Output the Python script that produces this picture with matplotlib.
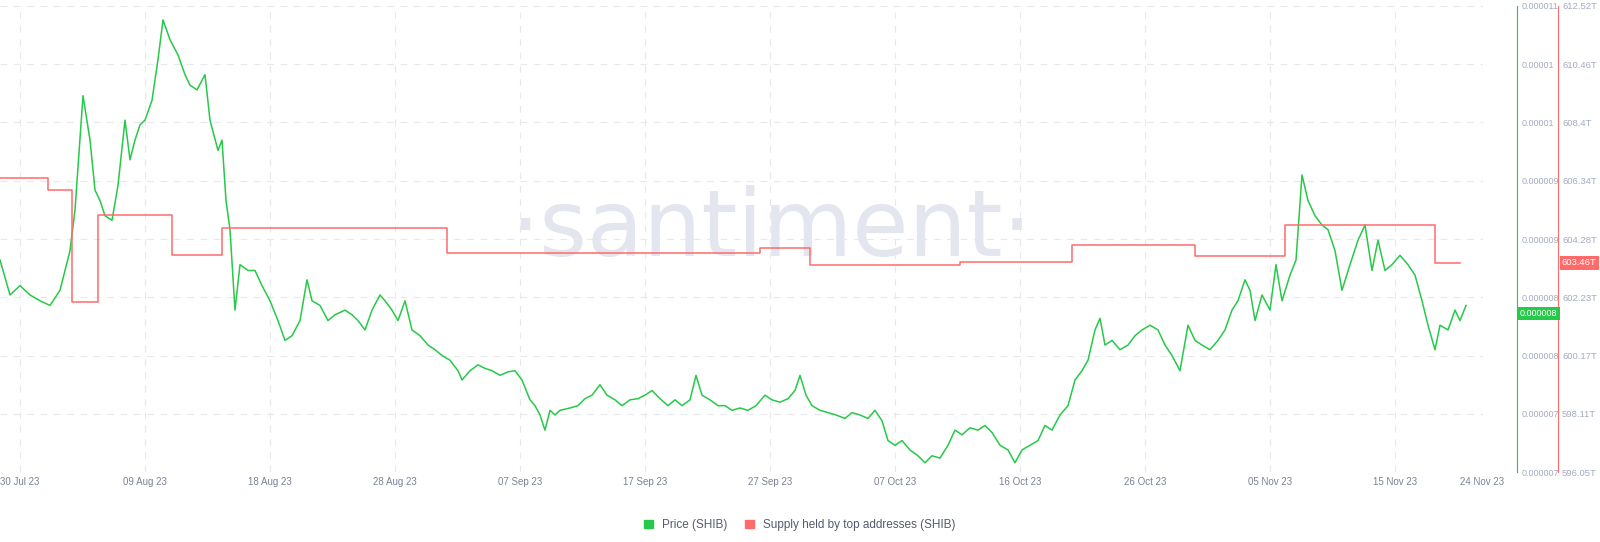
import numpy as np
import matplotlib.pyplot as plt
from matplotlib.patches import Rectangle

plt.rcParams['font.family'] = ['Liberation Sans', 'DejaVu Sans']

# days since chart start (~28 Jul 23 10:00), price in millionths of USD
price_day = [0,0.8,1.6,2.4,3.2,4.0,4.8,5.6,6.0,6.64,7.2,7.6,8.0,8.4,8.96,9.44,10.0,10.4,10.8,11.2,11.6,12.16,12.64,13.04,13.6,14.24,14.8,15.2,15.76,16.4,16.8,17.44,17.76,18.08,18.4,18.8,19.2,19.84,20.4,20.96,21.6,22.24,22.8,23.36,24.0,24.56,24.96,25.6,26.24,26.8,27.6,28.16,28.64,29.2,29.76,30.4,30.8,31.36,31.84,32.4,32.96,33.6,34.24,34.8,35.36,36.0,36.64,36.96,37.6,38.24,38.8,39.36,40.0,40.64,41.2,41.76,42.4,42.8,43.2,43.6,44.0,44.4,44.8,45.6,46.24,46.8,47.36,48.0,48.56,49.2,49.76,50.4,51.04,51.6,52.16,52.8,53.44,54.0,54.56,55.2,55.68,56.16,56.8,57.44,58.0,58.56,59.2,59.84,60.48,61.2,61.76,62.4,63.04,63.6,64.0,64.48,64.96,65.6,66.24,66.88,67.6,68.16,68.8,69.44,70.0,70.56,71.04,71.6,72.16,72.8,73.44,74.0,74.56,75.2,75.84,76.4,76.96,77.6,78.24,78.8,79.36,80.0,80.64,81.2,81.76,82.4,83.04,83.6,84.16,84.8,85.44,86.0,86.56,87.04,87.6,88.0,88.4,88.96,89.6,90.24,90.8,91.36,92.0,92.64,93.2,93.76,94.4,95.04,95.6,96.16,96.8,97.44,98.0,98.56,99.04,99.6,100.0,100.4,100.96,101.6,102.08,102.56,103.2,103.68,104.16,104.64,105.2,105.76,106.24,106.8,107.36,108.0,108.64,109.2,109.76,110.24,110.8,111.36,112.0,112.64,113.2,113.76,114.24,114.8,115.2,115.84,116.4,116.8,117.28]
price_val = [8.82,8.52,8.60,8.52,8.47,8.43,8.56,8.90,9.25,10.23,9.85,9.42,9.33,9.20,9.16,9.46,10.02,9.68,9.85,9.98,10.02,10.19,10.54,10.88,10.71,10.58,10.41,10.32,10.28,10.41,10.02,9.76,9.85,9.33,9.08,8.39,8.78,8.73,8.73,8.60,8.47,8.30,8.13,8.17,8.30,8.65,8.47,8.43,8.30,8.35,8.39,8.35,8.30,8.22,8.39,8.52,8.47,8.39,8.30,8.47,8.22,8.17,8.09,8.05,8.00,7.96,7.87,7.79,7.87,7.92,7.89,7.87,7.83,7.86,7.87,7.79,7.62,7.57,7.49,7.36,7.53,7.49,7.53,7.55,7.57,7.63,7.66,7.75,7.66,7.62,7.57,7.62,7.63,7.66,7.70,7.63,7.57,7.62,7.57,7.62,7.83,7.66,7.62,7.57,7.57,7.53,7.55,7.53,7.57,7.66,7.62,7.60,7.63,7.70,7.83,7.66,7.57,7.53,7.51,7.49,7.46,7.51,7.49,7.46,7.53,7.44,7.27,7.23,7.27,7.19,7.14,7.08,7.14,7.12,7.23,7.36,7.32,7.38,7.36,7.40,7.34,7.23,7.19,7.08,7.19,7.23,7.27,7.40,7.36,7.49,7.57,7.79,7.87,7.96,8.22,8.32,8.09,8.13,8.05,8.09,8.17,8.22,8.26,8.22,8.09,8.00,7.87,8.26,8.13,8.09,8.05,8.13,8.22,8.39,8.47,8.65,8.56,8.30,8.52,8.39,8.78,8.47,8.69,8.82,9.55,9.33,9.20,9.12,9.08,8.90,8.56,8.78,8.99,9.12,8.73,8.99,8.73,8.78,8.86,8.78,8.69,8.47,8.26,8.05,8.26,8.22,8.39,8.30,8.43]

# supply held by top addresses, trillions (step changes)
supply_day = [0,3.84,5.76,7.84,13.76,17.76,35.76,36.8,60.8,64.8,76.8,85.76,95.6,102.8,114.8,116.8]
supply_val = [606.44,606.02,602.06,605.13,603.72,604.67,603.79,603.79,603.97,603.37,603.47,604.07,603.69,604.78,603.44,603.44]

tick_days = [1.6 + 10 * i for i in range(12)] + [118.6]
tick_labels = ['30 Jul 23','09 Aug 23','18 Aug 23','28 Aug 23','07 Sep 23','17 Sep 23','27 Sep 23',
               '07 Oct 23','16 Oct 23','26 Oct 23','05 Nov 23','15 Nov 23','24 Nov 23']
price_ticks = [7.0 + 0.5 * i for i in range(9)]
price_tick_labels = ['0.000007','0.000007','0.000008','0.000008','0.000009','0.000009','0.00001','0.00001','0.000011']
supply_ticks = [596.05,598.11,600.17,602.23,604.28,606.34,608.4,610.46,612.52]

green = '#26c948'
red = '#ff6b6b'
txt = '#a4abc2'

fig = plt.figure(figsize=(16, 5.42), dpi=100)
W = 1483
ax = fig.add_axes([0, 0.129, W / 1600, 0.86])
ax.set_xlim(0, 118.64)
ax.set_ylim(7.0, 11.0)
ax.set_yticks(price_ticks)
ax.set_yticklabels([])
ax.tick_params(left=False, length=0)
ax.grid(True, color='#e6e8ee', linestyle=(0, (6, 6)), linewidth=0.8)
ax.set_xticks(tick_days)
ax.set_xticklabels(tick_labels, fontsize=7, color='#7a8298')
for s in ax.spines.values():
    s.set_visible(False)
ax.plot(price_day, price_val, color=green, linewidth=1.1, zorder=3)
ax.text(0.52, 0.52, '·santiment·', transform=ax.transAxes, ha='center', va='center',
        fontsize=66, color='#e3e5ef', zorder=0, family='DejaVu Sans')

ax2 = ax.twinx()
ax2.set_ylim(596.05, 612.52)
ax2.plot(supply_day, supply_val, color=red, linewidth=1.1, drawstyle='steps-post', zorder=3)
for s in ['top', 'left', 'bottom']:
    ax2.spines[s].set_visible(False)
ax2.spines['right'].set_position(('axes', 1558 / W))
ax2.spines['right'].set_color(red)
ax2.set_yticks(supply_ticks)
ax2.set_yticklabels([f'{v:g}T' for v in supply_ticks], fontsize=6.8, color=txt)
ax2.tick_params(length=0, pad=3)

ax3 = ax.twinx()
ax3.set_ylim(7.0, 11.0)
for s in ['top', 'left', 'bottom']:
    ax3.spines[s].set_visible(False)
ax3.spines['right'].set_position(('axes', 1517 / W))
ax3.spines['right'].set_color(green)
ax3.set_yticks(price_ticks)
ax3.set_yticklabels(price_tick_labels, fontsize=6.5, color=txt)
ax3.tick_params(length=0, pad=3)

ax3.text(1520 / W, price_val[-1] - 0.07, '0.000008', transform=ax3.get_yaxis_transform(), va='center',
         fontsize=6.5, color='white', bbox=dict(boxstyle='square,pad=0.25', fc=green, ec='none'))
ax2.text(1562 / W, supply_val[-1], '603.46T', transform=ax2.get_yaxis_transform(),
         va='center', fontsize=6.8, color='white', bbox=dict(boxstyle='square,pad=0.25', fc=red, ec='none'))

fig.legend(handles=[Rectangle((0, 0), 1, 1, color=green), Rectangle((0, 0), 1, 1, color=red)],
           labels=['Price (SHIB)', 'Supply held by top addresses (SHIB)'], loc='lower center',
           bbox_to_anchor=(0.5, 0.0), ncol=2, frameon=False, fontsize=8.5, handlelength=0.7,
           handleheight=0.7, columnspacing=1.5, labelcolor='#555b6e')

fig.savefig('out.png', dpi=100)
